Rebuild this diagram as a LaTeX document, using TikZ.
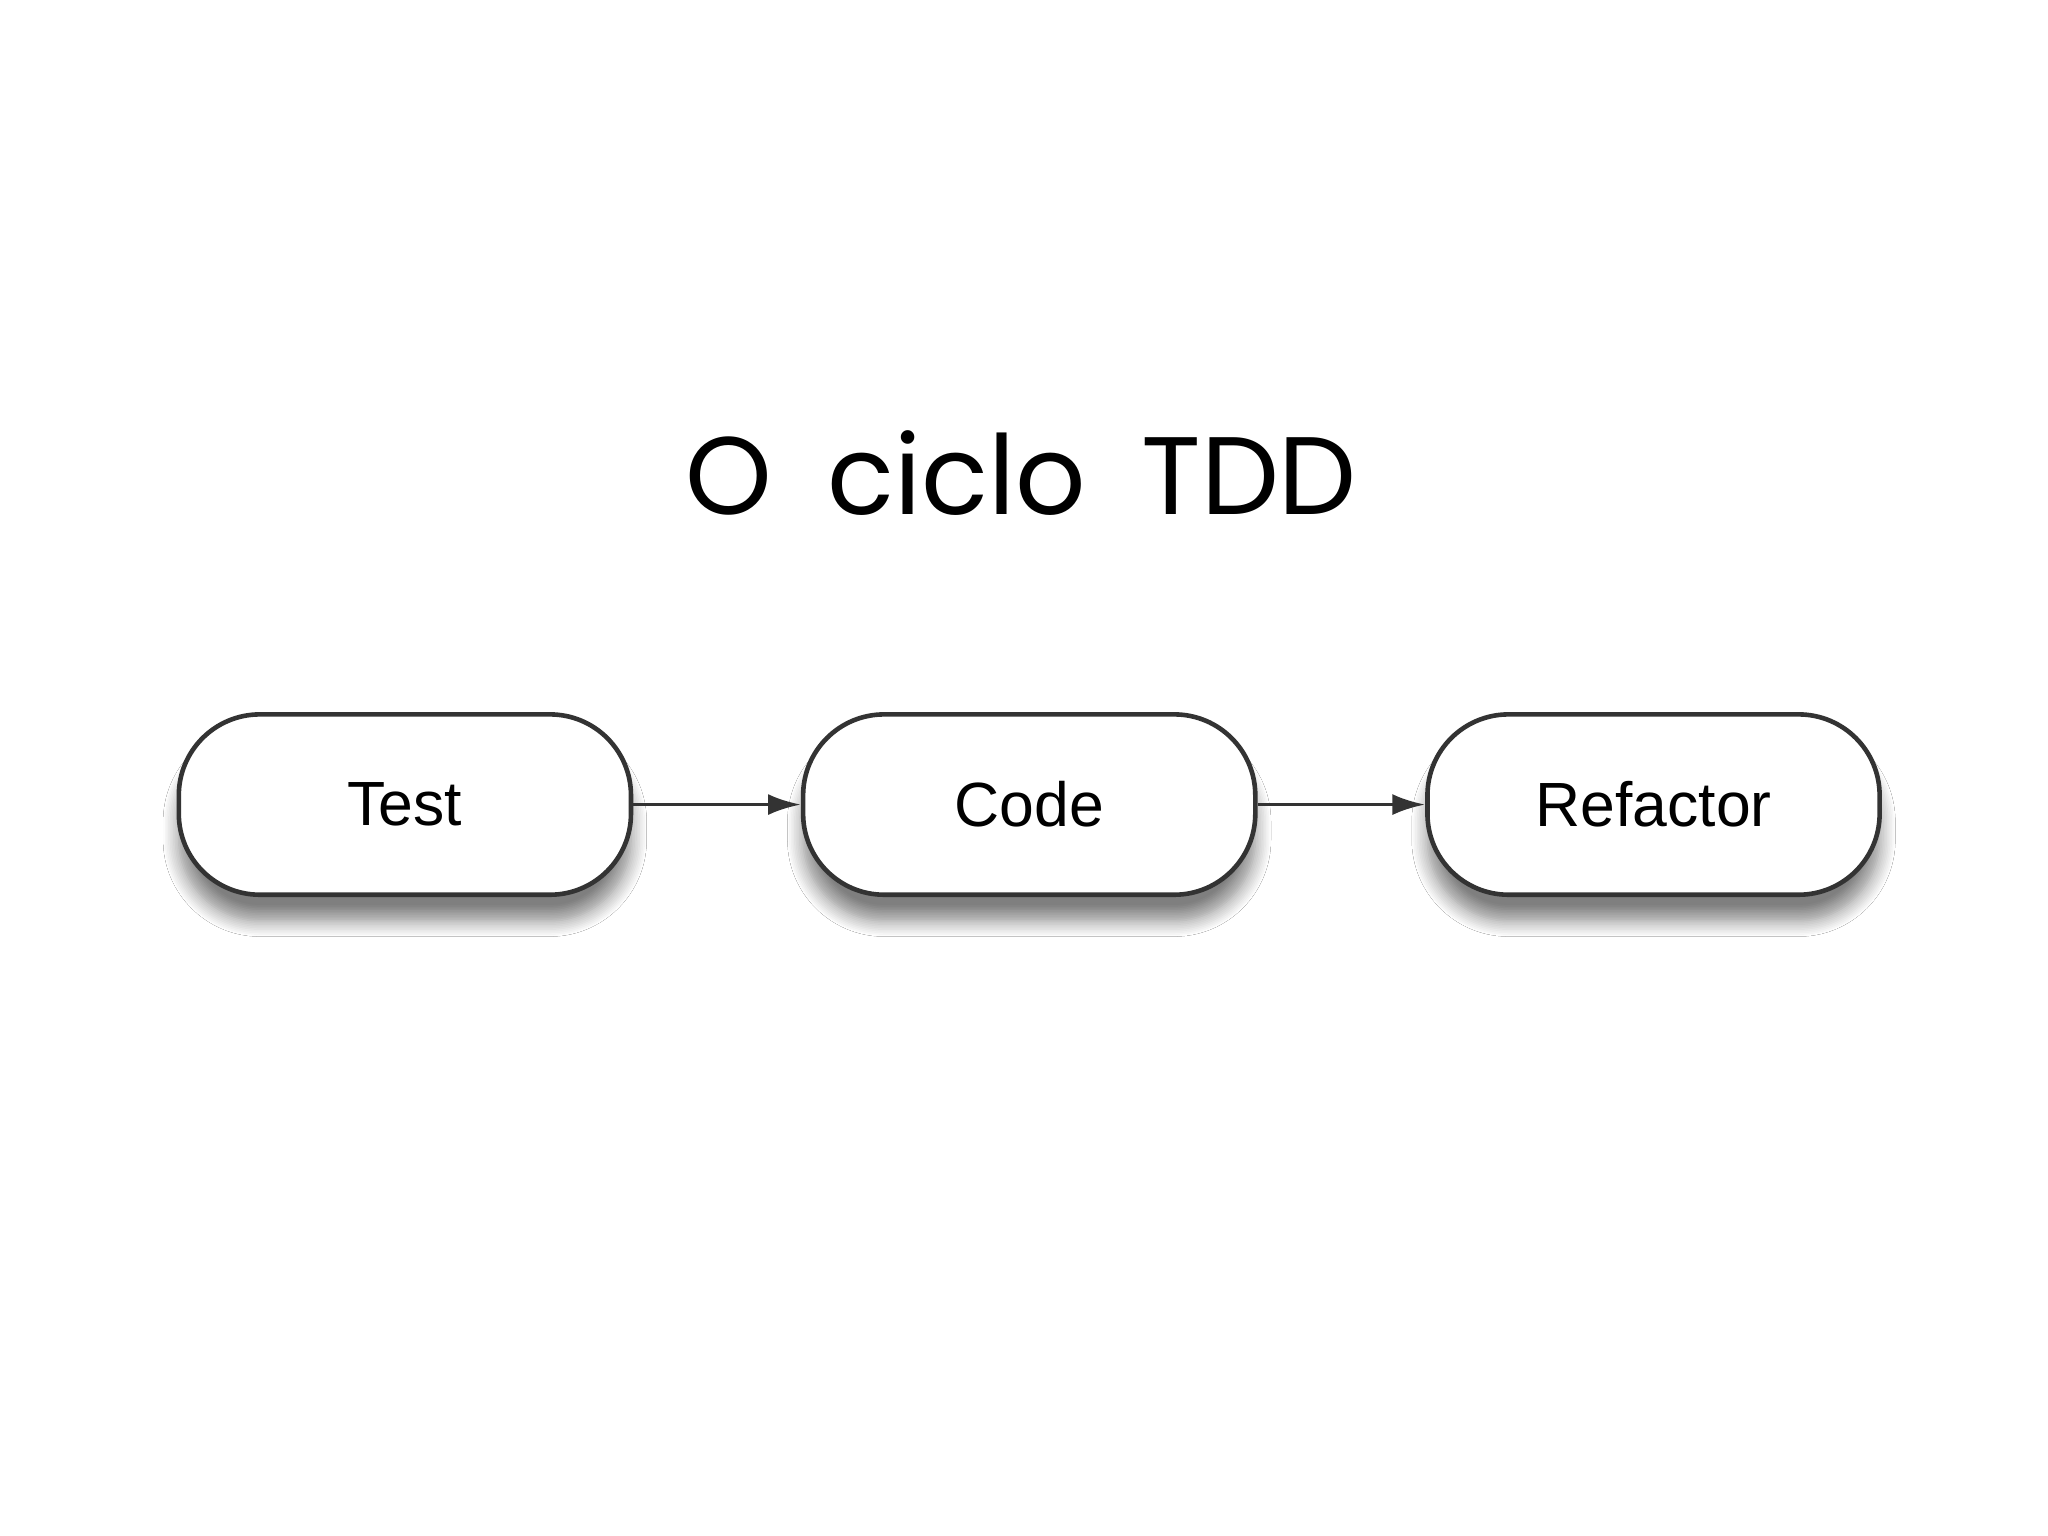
\documentclass[tikz,border=0pt]{standalone}
\usepackage{fontspec}
\setmainfont{Liberation Sans}
\newfontfamily\titlefont{Poppins}
\usetikzlibrary{shadows,arrows.meta,shadows.blur}
\begin{document}
\begin{tikzpicture}[x=0.01cm,y=-0.01cm,
  stepbox/.style={draw=black!80,line width=1pt,fill=white,rounded corners=0.62cm,minimum width=3.46cm,minimum height=1.38cm,font=\fontsize{13.6}{16}\selectfont,blur shadow={shadow xshift=0pt,shadow yshift=-0.2cm,shadow blur radius=0.12cm,shadow blur steps=10,shadow opacity=50}},
  conn/.style={draw=black!80,line width=0.8pt,-{Latex[length=0.25cm,width=0.16cm]}}]
\useasboundingbox[fill=white] (0,0) rectangle (1568,1176);
\node (title) at (782,362) {\titlefont\fontsize{24}{28}\selectfont O\hspace{0.5em}ciclo\hspace{0.5em}TDD};
\node[stepbox] (test) at (310,616) {Test};
\node[stepbox] (code) at (788,616) {Code};
\node[stepbox] (ref) at (1266,616) {Refactor};
\draw[conn] (test) -- (code);
\draw[conn] (code) -- (ref);
\end{tikzpicture}
\end{document}
